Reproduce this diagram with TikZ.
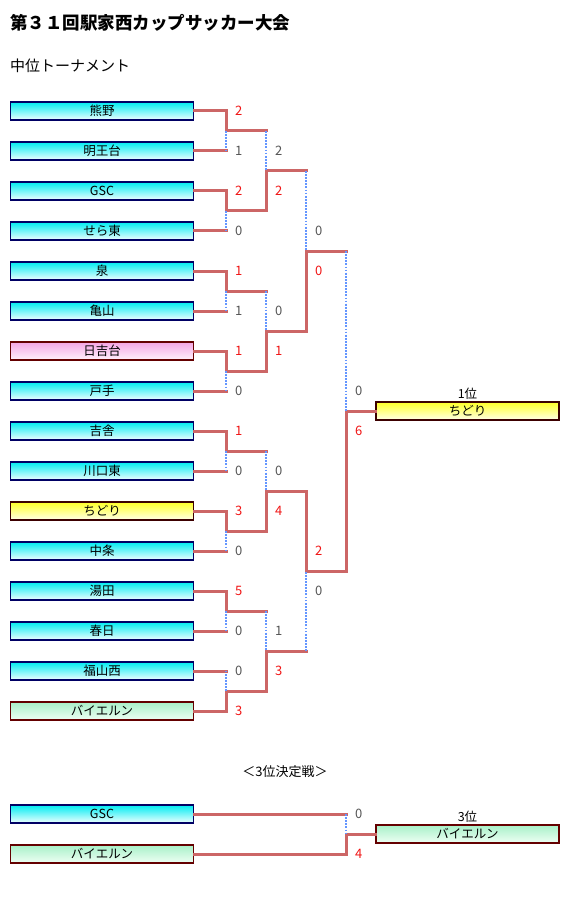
\documentclass[tikz,border=0pt]{standalone}
\usepackage{fontspec}
\setmainfont{Noto Sans CJK JP}
\usetikzlibrary{positioning}
\definecolor{cyantop}{RGB}{0,236,242}
\definecolor{cyanbot}{RGB}{240,255,255}
\definecolor{pinktop}{RGB}{244,166,228}
\definecolor{pinkbot}{RGB}{255,242,252}
\definecolor{yellowtop}{RGB}{255,255,40}
\definecolor{yellowbot}{RGB}{255,255,232}
\definecolor{greentop}{RGB}{168,240,200}
\definecolor{greenbot}{RGB}{238,255,244}
\definecolor{navyline}{RGB}{0,0,100}
\definecolor{darkred}{RGB}{100,0,0}
\definecolor{barred}{RGB}{204,102,102}
\definecolor{dotblue}{RGB}{100,150,255}
\definecolor{winred}{RGB}{240,20,20}
\definecolor{losegray}{RGB}{85,85,85}
\tikzset{
  team/.style={draw=navyline, line width=1.4pt, minimum width=183pt, minimum height=18pt,
    inner sep=0pt, top color=cyantop, bottom color=cyanbot, font=\fontsize{12.5}{14}\selectfont},
  pinkteam/.style={team, draw=darkred, top color=pinktop, bottom color=pinkbot},
  yellowteam/.style={team, draw={rgb,255:red,60;green,0;blue,0}, top color=yellowtop, bottom color=yellowbot},
  greenteam/.style={team, draw=darkred, top color=greentop, bottom color=greenbot},
  solidline/.style={draw=barred, line width=3pt, line cap=rect},
  dotline/.style={draw=dotblue, line width=2.4pt, dash pattern=on 1.8pt off 1.3pt},
  wscore/.style={anchor=west, inner sep=0pt, text=winred, font=\fontsize{13}{15}\selectfont},
  lscore/.style={anchor=west, inner sep=0pt, text=losegray, font=\fontsize{13}{15}\selectfont},
  caption/.style={inner sep=0pt, font=\fontsize{12.5}{14}\selectfont}
}
\begin{document}
\begin{tikzpicture}[x=1pt,y=-1pt]
\useasboundingbox (0,0) rectangle (582,901);

\node[anchor=west, inner sep=0pt, font=\bfseries\fontsize{17.5}{20}\selectfont] (title) at (10,23) {第３１回駅家西カップサッカー大会};
\node[anchor=west, inner sep=0pt, font=\fontsize{15}{18}\selectfont] (sub) at (10,66) {中位トーナメント};

% teams
\node[team] (t1) at (102,111) {熊野};
\node[team] (t2) at (102,151) {明王台};
\node[team] (t3) at (102,191) {GSC};
\node[team] (t4) at (102,231) {せら東};
\node[team] (t5) at (102,271) {泉};
\node[team] (t6) at (102,311) {亀山};
\node[pinkteam] (t7) at (102,351) {日吉台};
\node[team] (t8) at (102,391) {戸手};
\node[team] (t9) at (102,431) {吉舎};
\node[team] (t10) at (102,471) {川口東};
\node[yellowteam] (t11) at (102,511) {ちどり};
\node[team] (t12) at (102,551) {中条};
\node[team] (t13) at (102,591) {湯田};
\node[team] (t14) at (102,631) {春日};
\node[team] (t15) at (102,671) {福山西};
\node[greenteam] (t16) at (102,711) {バイエルン};

\node[yellowteam] (champ) at (467.5,411) {ちどり};
\node[caption, above=2pt of champ] (first) {1位};

% junctions
\coordinate (a1) at (226,131);
\coordinate (a2) at (226,211);
\coordinate (a3) at (226,291);
\coordinate (a4) at (226,371);
\coordinate (a5) at (226,451);
\coordinate (a6) at (226,531);
\coordinate (a7) at (226,611);
\coordinate (a8) at (226,691);
\coordinate (b1) at (266,171);
\coordinate (b2) at (266,331);
\coordinate (b3) at (266,491);
\coordinate (b4) at (266,651);
\coordinate (c1) at (306,251);
\coordinate (c2) at (306,571);
\coordinate (d1) at (346,411);

% first round
\draw[solidline] (t1.east) -| (a1) -- (a1 -| b1);
\draw[solidline] (t2.east) -- (t2.east -| a1);
\draw[dotline] (a1) -- (t2.east -| a1);
\draw[solidline] (t3.east) -| (a2) -- (a2 -| b1);
\draw[solidline] (t4.east) -- (t4.east -| a2);
\draw[dotline] (a2) -- (t4.east -| a2);
\draw[solidline] (t5.east) -| (a3) -- (a3 -| b2);
\draw[solidline] (t6.east) -- (t6.east -| a3);
\draw[dotline] (a3) -- (t6.east -| a3);
\draw[solidline] (t7.east) -| (a4) -- (a4 -| b2);
\draw[solidline] (t8.east) -- (t8.east -| a4);
\draw[dotline] (a4) -- (t8.east -| a4);
\draw[solidline] (t9.east) -| (a5) -- (a5 -| b3);
\draw[solidline] (t10.east) -- (t10.east -| a5);
\draw[dotline] (a5) -- (t10.east -| a5);
\draw[solidline] (t11.east) -| (a6) -- (a6 -| b3);
\draw[solidline] (t12.east) -- (t12.east -| a6);
\draw[dotline] (a6) -- (t12.east -| a6);
\draw[solidline] (t13.east) -| (a7) -- (a7 -| b4);
\draw[solidline] (t14.east) -- (t14.east -| a7);
\draw[dotline] (a7) -- (t14.east -| a7);
\draw[solidline] (t16.east) -| (a8) -- (a8 -| b4);
\draw[solidline] (t15.east) -- (t15.east -| a8);
\draw[dotline] (a8) -- (t15.east -| a8);

% second round
\draw[solidline] (a2 -| b1) -- (b1) -- (b1 -| c1);
\draw[dotline] (a1 -| b1) -- (b1);
\draw[solidline] (a4 -| b2) -- (b2) -- (b2 -| c1);
\draw[dotline] (a3 -| b2) -- (b2);
\draw[solidline] (a6 -| b3) -- (b3) -- (b3 -| c2);
\draw[dotline] (a5 -| b3) -- (b3);
\draw[solidline] (a8 -| b4) -- (b4) -- (b4 -| c2);
\draw[dotline] (a7 -| b4) -- (b4);

% third round
\draw[solidline] (b2 -| c1) -- (c1) -- (c1 -| d1);
\draw[dotline] (b1 -| c1) -- (c1);
\draw[solidline] (b3 -| c2) -- (c2) -- (c2 -| d1);
\draw[dotline] (b4 -| c2) -- (c2);

% final
\draw[solidline] (c2 -| d1) -- (d1) -- (champ.west);
\draw[dotline] (c1 -| d1) -- (d1);

% scores
\node[wscore] (s1) at (235,111) {2};
\node[lscore] (s2) at (235,151) {1};
\node[wscore] (s3) at (235,191) {2};
\node[lscore] (s4) at (235,231) {0};
\node[wscore] (s5) at (235,271) {1};
\node[lscore] (s6) at (235,311) {1};
\node[wscore] (s7) at (235,351) {1};
\node[lscore] (s8) at (235,391) {0};
\node[wscore] (s9) at (235,431) {1};
\node[lscore] (s10) at (235,471) {0};
\node[wscore] (s11) at (235,511) {3};
\node[lscore] (s12) at (235,551) {0};
\node[wscore] (s13) at (235,591) {5};
\node[lscore] (s14) at (235,631) {0};
\node[lscore] (s15) at (235,671) {0};
\node[wscore] (s16) at (235,711) {3};
\node[lscore] (s17) at (275,151) {2};
\node[wscore] (s18) at (275,191) {2};
\node[lscore] (s19) at (275,311) {0};
\node[wscore] (s20) at (275,351) {1};
\node[lscore] (s21) at (275,471) {0};
\node[wscore] (s22) at (275,511) {4};
\node[lscore] (s23) at (275,631) {1};
\node[wscore] (s24) at (275,671) {3};
\node[lscore] (s25) at (315,231) {0};
\node[wscore] (s26) at (315,271) {0};
\node[wscore] (s27) at (315,551) {2};
\node[lscore] (s28) at (315,591) {0};
\node[lscore] (s29) at (355,391) {0};
\node[wscore] (s30) at (355,431) {6};

% third place
\node[caption, font=\fontsize{13}{15}\selectfont] (play) at (285,772) {＜3位決定戦＞};
\node[team] (g1) at (102,814) {GSC};
\node[greenteam] (g2) at (102,854) {バイエルン};
\node[greenteam] (third) at (467.5,834) {バイエルン};
\node[caption, above=2pt of third] (thirdlbl) {3位};
\coordinate (e1) at (346,834);
\draw[solidline] (g2.east) -| (e1) -- (third.west);
\draw[solidline] (g1.east) -- (g1.east -| e1);
\draw[dotline] (g1.east -| e1) -- (e1);
\node[lscore] (s31) at (355,814) {0};
\node[wscore] (s32) at (355,854) {4};
\end{tikzpicture}
\end{document}
